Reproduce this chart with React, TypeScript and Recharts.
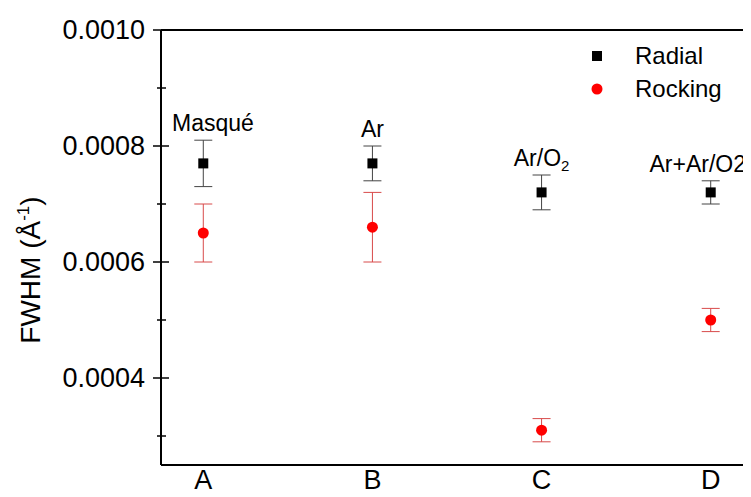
import React from "react";
import {
  ScatterChart, Scatter, XAxis, YAxis, ErrorBar, ReferenceDot, ReferenceLine,
} from "recharts";

const CATEGORIES = ["A", "B", "C", "D"];
const RADIAL = [0.00077, 0.00077, 0.00072, 0.00072];
const RADIAL_ERR = [0.00004, 0.00003, 0.00003, 0.00002];
const ROCKING = [0.00065, 0.00066, 0.00031, 0.0005];
const ROCKING_ERR = [0.00005, 0.00006, 0.00002, 0.00002];
const ANNOTATIONS = ["Masqué", "Ar", "Ar/O₂", "Ar+Ar/O2"];
const Y_TICKS = [0.0003, 0.0004, 0.0005, 0.0006, 0.0007, 0.0008, 0.0009, 0.001];

const FONT = "'Liberation Sans', Arial, sans-serif";
const PLOT_LEFT = 153;
const PLOT_RIGHT = 745;

const radialData = CATEGORIES.map((c, i) => ({ x: i + 1, y: RADIAL[i], err: RADIAL_ERR[i] }));
const rockingData = CATEGORIES.map((c, i) => ({ x: i + 1, y: ROCKING[i], err: ROCKING_ERR[i] }));

const isMajor = (v: number) => Math.round(v * 1e4) % 2 === 0;

let ctx: CanvasRenderingContext2D | null = null;
const textWidth = (s: string, size: number) => {
  if (!ctx) ctx = document.createElement("canvas").getContext("2d");
  if (!ctx) return s.length * size * 0.55;
  ctx.font = `${size}px 'Liberation Sans'`;
  return ctx.measureText(s).width;
};

const YTick = (props: any) => {
  const { x, y, payload } = props;
  const major = isMajor(payload.value);
  return (
    <g>
      <line x1={x - (major ? 8 : 4)} x2={x + (major ? 8 : 5)} y1={y} y2={y} stroke="#000" strokeWidth={1.5} />
      {major && (
        <text x={x - 16} y={y} dy="0.35em" textAnchor="end" fontSize={27} fill="#000" fontFamily={FONT}>
          {payload.value.toFixed(4)}
        </text>
      )}
    </g>
  );
};

const YLabel = () => (
  <text
    x={32}
    y={262}
    transform="rotate(-90, 32, 262)"
    textAnchor="middle"
    fontSize={28}
    fill="#000"
    fontFamily={FONT}
  >
    FWHM (Å
    <tspan dy={-11} fontSize={17}>-1</tspan>
    <tspan dy={11}>)</tspan>
  </text>
);

const square = (props: any) => (
  <rect x={props.cx - 5} y={props.cy - 5} width={10} height={10} fill="#000" />
);
const dot = (props: any) => <circle cx={props.cx} cy={props.cy} r={5.5} fill="#ff0000" />;

// label sits above the error bar, kept inside the frame
const annotationLabel = (text: string) => (props: any) => {
  const { viewBox } = props;
  const cx = viewBox.x + (viewBox.width || 0) / 2;
  const cy = viewBox.y + (viewBox.height || 0) / 2;
  const parts = text.split("₂");
  const w = textWidth(parts[0], 23) + (parts.length > 1 ? textWidth("2", 15) : 0);
  let x = cx;
  if (x - w / 2 < PLOT_LEFT + 11) x = PLOT_LEFT + 11 + w / 2;
  if (x + w / 2 > PLOT_RIGHT - 7) x = PLOT_RIGHT - 7 - w / 2;
  return (
    <text x={x} y={cy - 9} textAnchor="middle" fontSize={23} fill="#000" fontFamily={FONT}>
      {parts[0]}
      {parts.length > 1 && (
        <tspan dy={5} fontSize={15}>2</tspan>
      )}
    </text>
  );
};

const LegendBox = () => (
  <div
    style={{
      position: "absolute",
      left: 582,
      top: 31,
      fontFamily: FONT,
      fontSize: 24,
      color: "#000",
    }}
  >
    {[
      { name: "Radial", icon: <rect x={2} y={2} width={10} height={10} fill="#000" /> },
      { name: "Rocking", icon: <circle cx={7} cy={7} r={5.5} fill="#ff0000" /> },
    ].map((r) => (
      <div key={r.name} style={{ display: "flex", alignItems: "center", height: 33 }}>
        <svg width={14} height={14}>{r.icon}</svg>
        <span style={{ marginLeft: 31 }}>{r.name}</span>
      </div>
    ))}
  </div>
);

export default function App() {
  return (
    <div style={{ position: "relative", width: 743, height: 489, overflow: "hidden", background: "#fff" }}>
      <ScatterChart
        width={760}
        height={489}
        margin={{ top: 22, right: 15, bottom: 0, left: 0 }}
        style={{ fontFamily: FONT }}
      >
        <XAxis
          type="number"
          dataKey="x"
          domain={[0.75, 4.25]}
          ticks={[1, 2, 3, 4]}
          allowDataOverflow
          tickFormatter={(v) => CATEGORIES[v - 1]}
          tick={{ fontSize: 27, fill: "#000" }}
          tickLine={false}
          tickSize={0}
          tickMargin={5}
          height={32}
          stroke="#000"
          strokeWidth={2}
        />
        <YAxis
          type="number"
          dataKey="y"
          domain={[0.00025, 0.001]}
          ticks={Y_TICKS}
          allowDataOverflow
          width={153}
          tick={<YTick />}
          tickLine={false}
          tickSize={0}
          tickMargin={0}
          stroke="#000"
          strokeWidth={2}
          label={<YLabel />}
        />
        <ReferenceLine y={0.001} stroke="#000" strokeWidth={2} ifOverflow="visible" />
        <ReferenceLine x={4.25} stroke="#000" strokeWidth={2} ifOverflow="visible" />
        <Scatter name="Radial" data={radialData} shape={square} isAnimationActive={false}>
          <ErrorBar dataKey="err" direction="y" width={9} stroke="#444" strokeWidth={1} />
        </Scatter>
        <Scatter name="Rocking" data={rockingData} shape={dot} isAnimationActive={false}>
          <ErrorBar dataKey="err" direction="y" width={9} stroke="#d84a4a" strokeWidth={1} />
        </Scatter>
        {ANNOTATIONS.map((t, i) => (
          <ReferenceDot
            key={t}
            x={i + 1}
            y={RADIAL[i] + RADIAL_ERR[i]}
            r={0}
            fill="none"
            stroke="none"
            ifOverflow="visible"
            label={annotationLabel(t)}
          />
        ))}
      </ScatterChart>
      <LegendBox />
    </div>
  );
}
